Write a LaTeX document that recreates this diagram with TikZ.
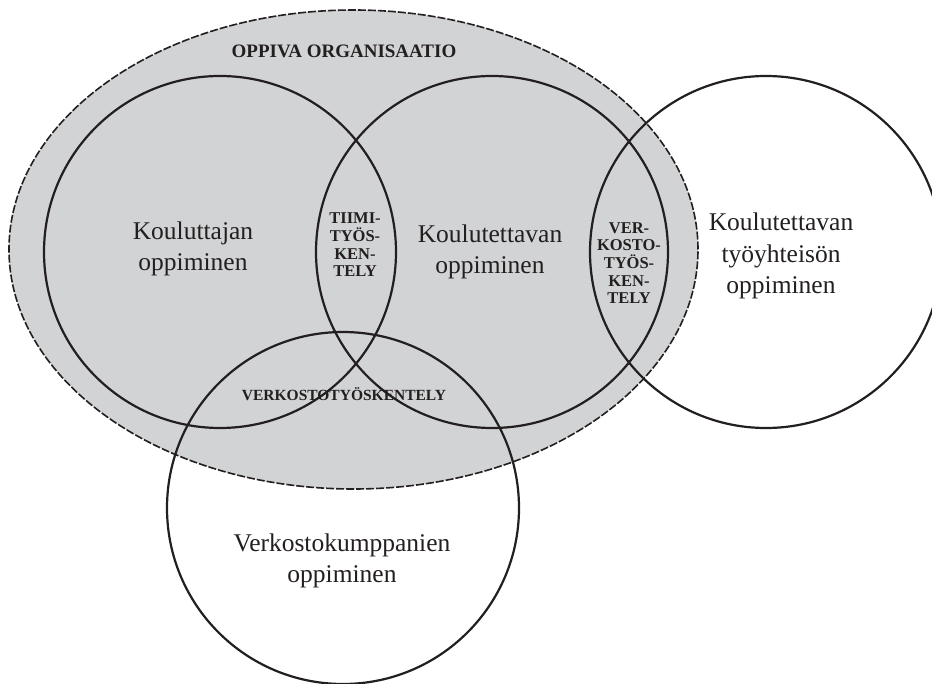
\documentclass[tikz,border=0pt]{standalone}
\usepackage{fontspec}
\setmainfont{Liberation Serif}
\usetikzlibrary{shapes.geometric}

\definecolor{orgfill}{RGB}{209,211,212}
\definecolor{ink}{RGB}{35,31,32}

\tikzset{
  orgarea/.style={ellipse, draw=ink, fill=orgfill, line width=1.6pt,
    dash pattern=on 8pt off 2pt, inner sep=0pt},
  learner/.style={circle, draw=ink, line width=2.2pt, inner sep=0pt,
    minimum size=352pt},
  maintext/.style={align=center, text=ink, font=\fontsize{25.5}{31.5}\selectfont},
  headtext/.style={align=center, text=ink, font=\fontsize{19}{22}\selectfont\bfseries},
  overlaptext/.style={align=center, text=ink, inner sep=0pt,
    font=\fontsize{16.5}{17.6}\selectfont\bfseries},
}

\begin{document}
\begin{tikzpicture}[x=1pt, y=-1pt]
  \useasboundingbox (0,0) rectangle (932,684);

  % learning organisation
  \node[orgarea, minimum width=689pt, minimum height=479pt] (org) at (353.5,249.5) {};

  % the four learning circles
  \node[learner] (trainer)  at (220,252) {};
  \node[learner] (trainee)  at (492,252) {};
  \node[learner] (workcomm) at (766,252) {};
  \node[learner] (partners) at (343,508) {};

  % labels
  \node[headtext] (orgname) at (344,51) {OPPIVA ORGANISAATIO};
  \node[maintext] (trainerlbl) at (193,249) {Kouluttajan\\oppiminen};
  \node[maintext] (traineelbl) at (490,252) {Koulutettavan\\oppiminen};
  \node[maintext] (workcommlbl) at (781,256) {Koulutettavan\\työyhteisön\\oppiminen};
  \node[maintext] (partnerslbl) at (342,561) {Verkostokumppanien\\oppiminen};

  \node[overlaptext] (team) at (355,245) {TIIMI-\\TYÖS-\\KEN-\\TELY};
  \node[overlaptext] (netright) at (629,263) {VER-\\KOSTO-\\TYÖS-\\KEN-\\TELY};
  \node[headtext, font=\fontsize{15.5}{18}\selectfont\bfseries] (netbottom) at (344,394) {VERKOSTOTYÖSKENTELY};
\end{tikzpicture}
\end{document}
